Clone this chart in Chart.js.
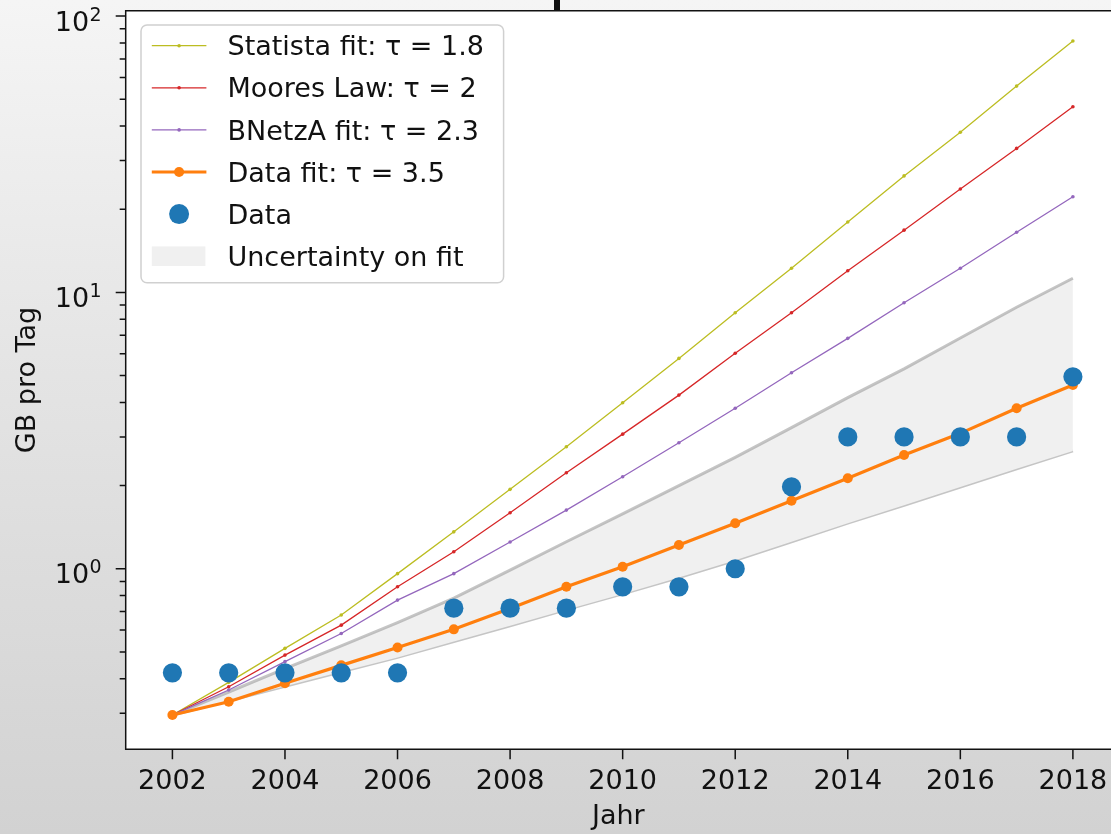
<!DOCTYPE html>
<html><head><meta charset="utf-8">
<script src="https://cdn.jsdelivr.net/npm/chart.js@4.4.1/dist/chart.umd.min.js"></script>
<style>
html,body{margin:0;padding:0;width:1111px;height:834px;overflow:hidden;}
body{background:linear-gradient(180deg,#f5f5f5 0%,#e4e4e4 45%,#d2d2d2 100%);position:relative;}
#c{position:absolute;left:0;top:0;}
#mark{position:absolute;left:554px;top:0;width:6px;height:10px;background:#111;}
</style></head><body>
<canvas id="c" width="1111" height="834"></canvas>
<div id="mark"></div>
<script>
// ---- data ----
const years = [2002,2003,2004,2005,2006,2007,2008,2009,2010,2011,2012,2013,2014,2015,2016,2017,2018];
const dataValues = [0.42,0.42,0.42,0.42,0.42,0.72,0.72,0.72,0.86,0.86,1.0,1.98,3.0,3.0,3.0,3.0,4.95];
const dataFit    = [0.2955,0.330,0.385,0.447,0.519,0.6035,0.718,0.861,1.017,1.218,1.46,1.762,2.124,2.579,3.09,3.81,4.62];
const statistaFit= [0.2955,0.388,0.515,0.680,0.960,1.36,1.938,2.764,3.99,5.77,8.445,12.23,17.98,26.4,37.97,55.8,81.3];
const mooresLaw  = [0.2955,0.374,0.487,0.625,0.861,1.152,1.595,2.226,3.07,4.25,6.02,8.445,11.98,16.8,23.67,33.2,47.0];
const bnetzaFit  = [0.2955,0.364,0.461,0.583,0.770,0.96,1.25,1.63,2.153,2.858,3.81,5.12,6.82,9.18,12.23,16.5,22.2];
const bandUpper  = [0.2955,0.358,0.435,0.526,0.638,0.783,0.989,1.252,1.58,2.0,2.53,3.24,4.16,5.29,6.84,8.84,11.25];
const bandLower  = [0.2955,0.333,0.3756,0.4236,0.4777,0.5455,0.622,0.711,0.811,0.93,1.073,1.252,1.462,1.697,1.975,2.30,2.67];

const xTicks = [2002,2004,2006,2008,2010,2012,2014,2016,2018];
const yMajor = [1,10,100];
const yMajorBase = ['10','10','10'];
const yMajorExp = ['0','1','2'];
const yMinor = [0.3,0.4,0.5,0.6,0.7,0.8,0.9,2,3,4,5,6,7,8,9,20,30,40,50,60,70,80,90];

const labels = {
  statista: 'Statista fit: τ = 1.8',
  moores: 'Moores Law: τ = 2',
  bnetza: 'BNetzA fit: τ = 2.3',
  fit: 'Data fit: τ = 3.5',
  data: 'Data',
  band: 'Uncertainty on fit'
};
const xTitle = 'Jahr';
const yTitle = 'GB pro Tag';

// ---- build ----
const pts = arr => years.map((yr, i) => ({x: yr, y: arr[i]}));
const FONT = 'DejaVu Sans';
const INK = '#111111';
Chart.defaults.font.family = FONT;
Chart.defaults.color = INK;

const C = {olive:'#bcbd22', red:'#d62728', purple:'#9467bd', orange:'#ff7f0e', blue:'#1f77b4'};

function thinLine(label, arr, color, order) {
  return {label, data: pts(arr), borderColor: color, backgroundColor: color, borderWidth: 1.3,
    pointRadius: 1.8, pointBorderWidth: 0, pointBackgroundColor: color, tension: 0, fill: false,
    order, legendKind: 'thin'};
}

const datasets = [
  {label: labels.data, data: pts(dataValues), showLine: false, pointRadius: 9.6, pointBorderWidth: 0,
   pointBackgroundColor: C.blue, borderColor: C.blue, backgroundColor: C.blue, order: 0, legendKind: 'dot'},
  {label: labels.fit, data: pts(dataFit), borderColor: C.orange, backgroundColor: C.orange, borderWidth: 3.2,
   pointRadius: 5, pointBorderWidth: 0, pointBackgroundColor: C.orange, tension: 0, fill: false, order: 1, legendKind: 'thick'},
  thinLine(labels.bnetza, bnetzaFit, C.purple, 2),
  thinLine(labels.moores, mooresLaw, C.red, 3),
  thinLine(labels.statista, statistaFit, C.olive, 4),
  {label: labels.band, data: pts(bandUpper), borderColor: 'rgba(140,140,140,0.5)', borderWidth: 3,
   pointRadius: 0, tension: 0, fill: '+1', backgroundColor: '#f0f0f0', order: 5, legendKind: 'patch'},
  {label: '_lower', data: pts(bandLower), borderColor: 'rgba(140,140,140,0.5)', borderWidth: 3,
   pointRadius: 0, tension: 0, fill: false, order: 6, legendKind: null}
];
const legendOrder = [4,3,2,1,0,5];

const framePlugin = {
  id: 'frame',
  beforeDraw(chart) {
    const {ctx, chartArea: a} = chart;
    ctx.save(); ctx.fillStyle = '#ffffff';
    ctx.fillRect(a.left, a.top, a.right - a.left, a.bottom - a.top); ctx.restore();
  },
  afterDatasetsDraw(chart) {
    const {ctx, chartArea: a} = chart;
    const x = chart.scales.x, y = chart.scales.y;
    ctx.save();
    ctx.strokeStyle = INK; ctx.lineWidth = 1.5;
    // left, top, bottom spines (right spine lies outside the picture)
    ctx.beginPath();
    ctx.moveTo(a.right + 2, a.top); ctx.lineTo(a.left, a.top); ctx.lineTo(a.left, a.bottom); ctx.lineTo(a.right + 2, a.bottom);
    ctx.stroke();
    ctx.beginPath();
    xTicks.forEach(v => { const px = x.getPixelForValue(v); ctx.moveTo(px, a.bottom); ctx.lineTo(px, a.bottom + 10); });
    yMajor.forEach(v => { const py = y.getPixelForValue(v); ctx.moveTo(a.left, py); ctx.lineTo(a.left - 10, py); });
    yMinor.forEach(v => { const py = y.getPixelForValue(v); ctx.moveTo(a.left, py); ctx.lineTo(a.left - 6, py); });
    ctx.stroke();
    ctx.fillStyle = INK; ctx.textAlign = 'right'; ctx.textBaseline = 'alphabetic';
    const rx = a.left - 24;
    yMajor.forEach((v, i) => {
      const py = y.getPixelForValue(v);
      ctx.font = '19px "' + FONT + '"';
      const sw = ctx.measureText(yMajorExp[i]).width;
      ctx.fillText(yMajorExp[i], rx, py + 4.7);
      ctx.font = '27px "' + FONT + '"';
      ctx.fillText(yMajorBase[i], rx - sw - 0.5, py + 14.5);
    });
    ctx.restore();
  },
  afterDraw(chart) {
    const {ctx, chartArea: a} = chart;
    const bx = a.left + 15.3, by = a.top + 14.3, bw = 362.6, bh = 257.7;
    ctx.save();
    ctx.beginPath();
    ctx.roundRect(bx, by, bw, bh, 6);
    ctx.fillStyle = 'rgba(255,255,255,0.85)'; ctx.fill();
    ctx.strokeStyle = '#d0d0d0'; ctx.lineWidth = 1.5; ctx.stroke();
    const hx0 = bx + 10.8, hx1 = bx + 65.4, hc = (hx0 + hx1) / 2, tx = bx + 86.5;
    legendOrder.forEach((di, row) => {
      const ds = chart.data.datasets[di];
      const cy = by + 20.7 + row * 42.1;
      if (ds.legendKind === 'thin' || ds.legendKind === 'thick') {
        ctx.strokeStyle = ds.borderColor; ctx.lineWidth = ds.borderWidth;
        ctx.beginPath(); ctx.moveTo(hx0, cy); ctx.lineTo(hx1, cy); ctx.stroke();
        ctx.fillStyle = ds.pointBackgroundColor;
        ctx.beginPath(); ctx.arc(hc, cy, ds.pointRadius, 0, Math.PI * 2); ctx.fill();
      } else if (ds.legendKind === 'dot') {
        ctx.fillStyle = ds.pointBackgroundColor;
        ctx.beginPath(); ctx.arc(hc, cy, 10, 0, Math.PI * 2); ctx.fill();
      } else if (ds.legendKind === 'patch') {
        ctx.fillStyle = ds.backgroundColor;
        ctx.fillRect(hx0, cy - 9.8, hx1 - hx0 - 1, 19.6);
      }
      ctx.fillStyle = INK; ctx.font = '27px "' + FONT + '"';
      ctx.textAlign = 'left'; ctx.textBaseline = 'alphabetic';
      ctx.fillText(ds.label, tx, cy + 9.6);
    });
    ctx.restore();
  }
};

new Chart(document.getElementById('c'), {
  type: 'line',
  data: {datasets},
  options: {
    responsive: false, animation: false, devicePixelRatio: 1,
    layout: {autoPadding: false, padding: {top: 10.7, right: 0, left: 0, bottom: 0}},
    plugins: {legend: {display: false}, tooltip: {enabled: false}},
    scales: {
      x: {
        type: 'linear', min: 2001.17, max: 2018.677,
        afterBuildTicks: s => { s.ticks = xTicks.map(v => ({value: v})); },
        afterFit: s => { s.height = 84.7; s.paddingLeft = 0; s.paddingRight = 0; },
        ticks: {callback: v => String(v), font: {size: 27}, color: INK, padding: 6, maxRotation: 0, autoSkip: false},
        grid: {display: true, drawOnChartArea: false, drawTicks: true, tickLength: 10, color: 'rgba(0,0,0,0)', tickColor: 'rgba(0,0,0,0)'},
        border: {display: false},
        title: {display: true, text: xTitle, font: {size: 27}, color: INK, padding: {top: 0, bottom: 1}}
      },
      y: {
        type: 'logarithmic', min: 0.2221, max: 104.6,
        afterBuildTicks: s => { s.ticks = yMajor.concat(yMinor).sort((p, q) => p - q).map(v => ({value: v, major: yMajor.includes(v)})); },
        afterFit: s => { s.width = 125.7; s.paddingTop = 0; s.paddingBottom = 0; },
        ticks: {display: false},
        grid: {display: true, drawOnChartArea: false, drawTicks: true, tickLength: 10, color: 'rgba(0,0,0,0)', tickColor: 'rgba(0,0,0,0)'},
        border: {display: false},
        title: {display: true, text: yTitle, font: {size: 27}, color: INK, padding: {top: 12, bottom: 0}}
      }
    }
  },
  plugins: [framePlugin]
});
</script>
</body></html>
